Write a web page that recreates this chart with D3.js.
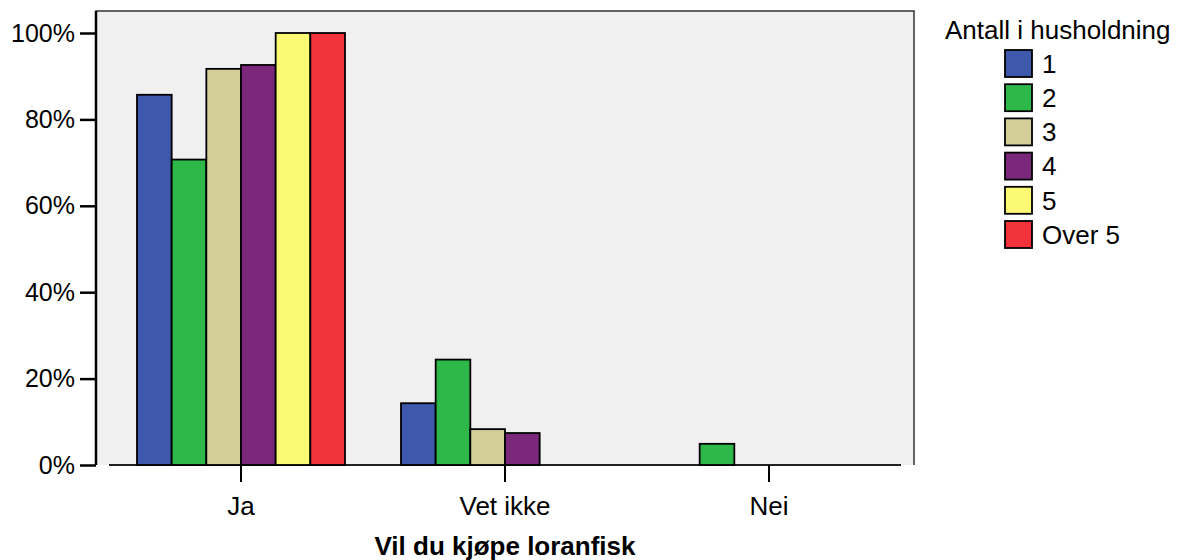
<!DOCTYPE html>
<html>
<head>
<meta charset="utf-8">
<script src="https://cdn.jsdelivr.net/npm/d3@7"></script>
<style>
  html, body { margin: 0; padding: 0; background: #ffffff; }
  svg { display: block; font-family: "Liberation Sans", Arial, sans-serif; }
</style>
</head>
<body>
<svg id="chart" width="1183" height="560"></svg>
<script>
// ---- Data ----
const categories = ["Ja", "Vet ikke", "Nei"];
const seriesNames = ["1", "2", "3", "4", "5", "Over 5"];
const seriesColors = ["#3e58ab", "#2fb84a", "#d3ce98", "#7b287b", "#fbf874", "#f1323a"];
const values1 = [85.7, 14.3, 0];
const values2 = [70.7, 24.4, 4.9];
const values3 = [91.7, 8.3, 0];
const values4 = [92.6, 7.4, 0];
const values5 = [100, 0, 0];
const valuesOver5 = [100, 0, 0];
const yTicks = [0, 20, 40, 60, 80, 100];
const xTitle = "Vil du kjøpe loranfisk";
const legendTitle = "Antall i husholdning";

const seriesValues = [values1, values2, values3, values4, values5, valuesOver5];

// ---- Layout ----
const FS = 25;
const FS2 = 26;
const svg = d3.select("#chart");
const frame = { left: 96, right: 914, top: 11, bottom: 465 };

const x0 = d3.scaleBand().domain(categories).range([109, 901]).padding(0);
const x1 = d3.scaleBand().domain(seriesNames).range([28, 236]).padding(0);
const y = d3.scaleLinear().domain([0, 100]).range([465, 33]);

// plot background + frame
svg.append("rect")
  .attr("x", frame.left).attr("y", frame.top)
  .attr("width", frame.right - frame.left).attr("height", frame.bottom - frame.top)
  .attr("fill", "#f0f0f0");
svg.append("path")
  .attr("d", `M${frame.left},${frame.bottom} V${frame.top} H${frame.right} V${frame.bottom}`)
  .attr("fill", "none").attr("stroke", "#333").attr("stroke-width", 1.5);

// baseline (category axis)
svg.append("line")
  .attr("x1", x0.range()[0]).attr("x2", x0.range()[1])
  .attr("y1", y(0)).attr("y2", y(0))
  .attr("stroke", "#222").attr("stroke-width", 2);

// bars
const groups = svg.append("g").selectAll("g")
  .data(categories)
  .join("g")
  .attr("transform", d => `translate(${x0(d)},0)`);

groups.selectAll("rect")
  .data((c, ci) => seriesNames.map((s, si) => ({ s, si, v: seriesValues[si][ci] })))
  .join("rect")
  .attr("x", d => x1(d.s))
  .attr("width", x1.bandwidth())
  .attr("y", d => y(d.v))
  .attr("height", d => y(0) - y(d.v))
  .attr("fill", d => seriesColors[d.si])
  .attr("stroke", "#000")
  .attr("stroke-width", 1.8);

// y axis
const yAxis = d3.axisLeft(y).tickValues(yTicks).tickFormat(d => d + "%").tickSize(16).tickPadding(5);
const yg = svg.append("g").attr("transform", `translate(${frame.left},0)`).call(yAxis);
yg.select(".domain").remove();
yg.selectAll(".tick line").attr("stroke", "#000").attr("stroke-width", 2.5);
yg.selectAll(".tick text").attr("font-size", FS).attr("fill", "#000")
  .attr("font-family", "Liberation Sans, Arial, sans-serif");
svg.append("line").attr("x1", frame.left).attr("x2", frame.left)
  .attr("y1", frame.top).attr("y2", frame.bottom)
  .attr("stroke", "#000").attr("stroke-width", 2.5);

// x axis
const xAxis = d3.axisBottom(x0).tickSize(17).tickPadding(15);
const xg = svg.append("g").attr("transform", `translate(0,${frame.bottom})`).call(xAxis);
xg.select(".domain").remove();
xg.selectAll(".tick line").attr("stroke", "#000").attr("stroke-width", 2);
xg.selectAll(".tick text").attr("font-size", FS2).attr("fill", "#000")
  .attr("font-family", "Liberation Sans, Arial, sans-serif");

// x title
svg.append("text")
  .attr("x", 505).attr("y", 555)
  .attr("text-anchor", "middle")
  .attr("font-size", FS2).attr("font-weight", "bold")
  .text(xTitle);

// legend
svg.append("text")
  .attr("x", 945).attr("y", 39)
  .attr("font-size", FS2)
  .text(legendTitle);
const leg = svg.append("g").selectAll("g")
  .data(seriesNames)
  .join("g")
  .attr("transform", (d, i) => `translate(1005,${50 + i * 34.2})`);
leg.append("rect")
  .attr("width", 27).attr("height", 27)
  .attr("fill", (d, i) => seriesColors[i])
  .attr("stroke", "#000").attr("stroke-width", 1.8);
leg.append("text")
  .attr("x", 37).attr("y", 13.5).attr("dy", "0.36em")
  .attr("font-size", FS2)
  .text(d => d);
</script>
</body>
</html>
